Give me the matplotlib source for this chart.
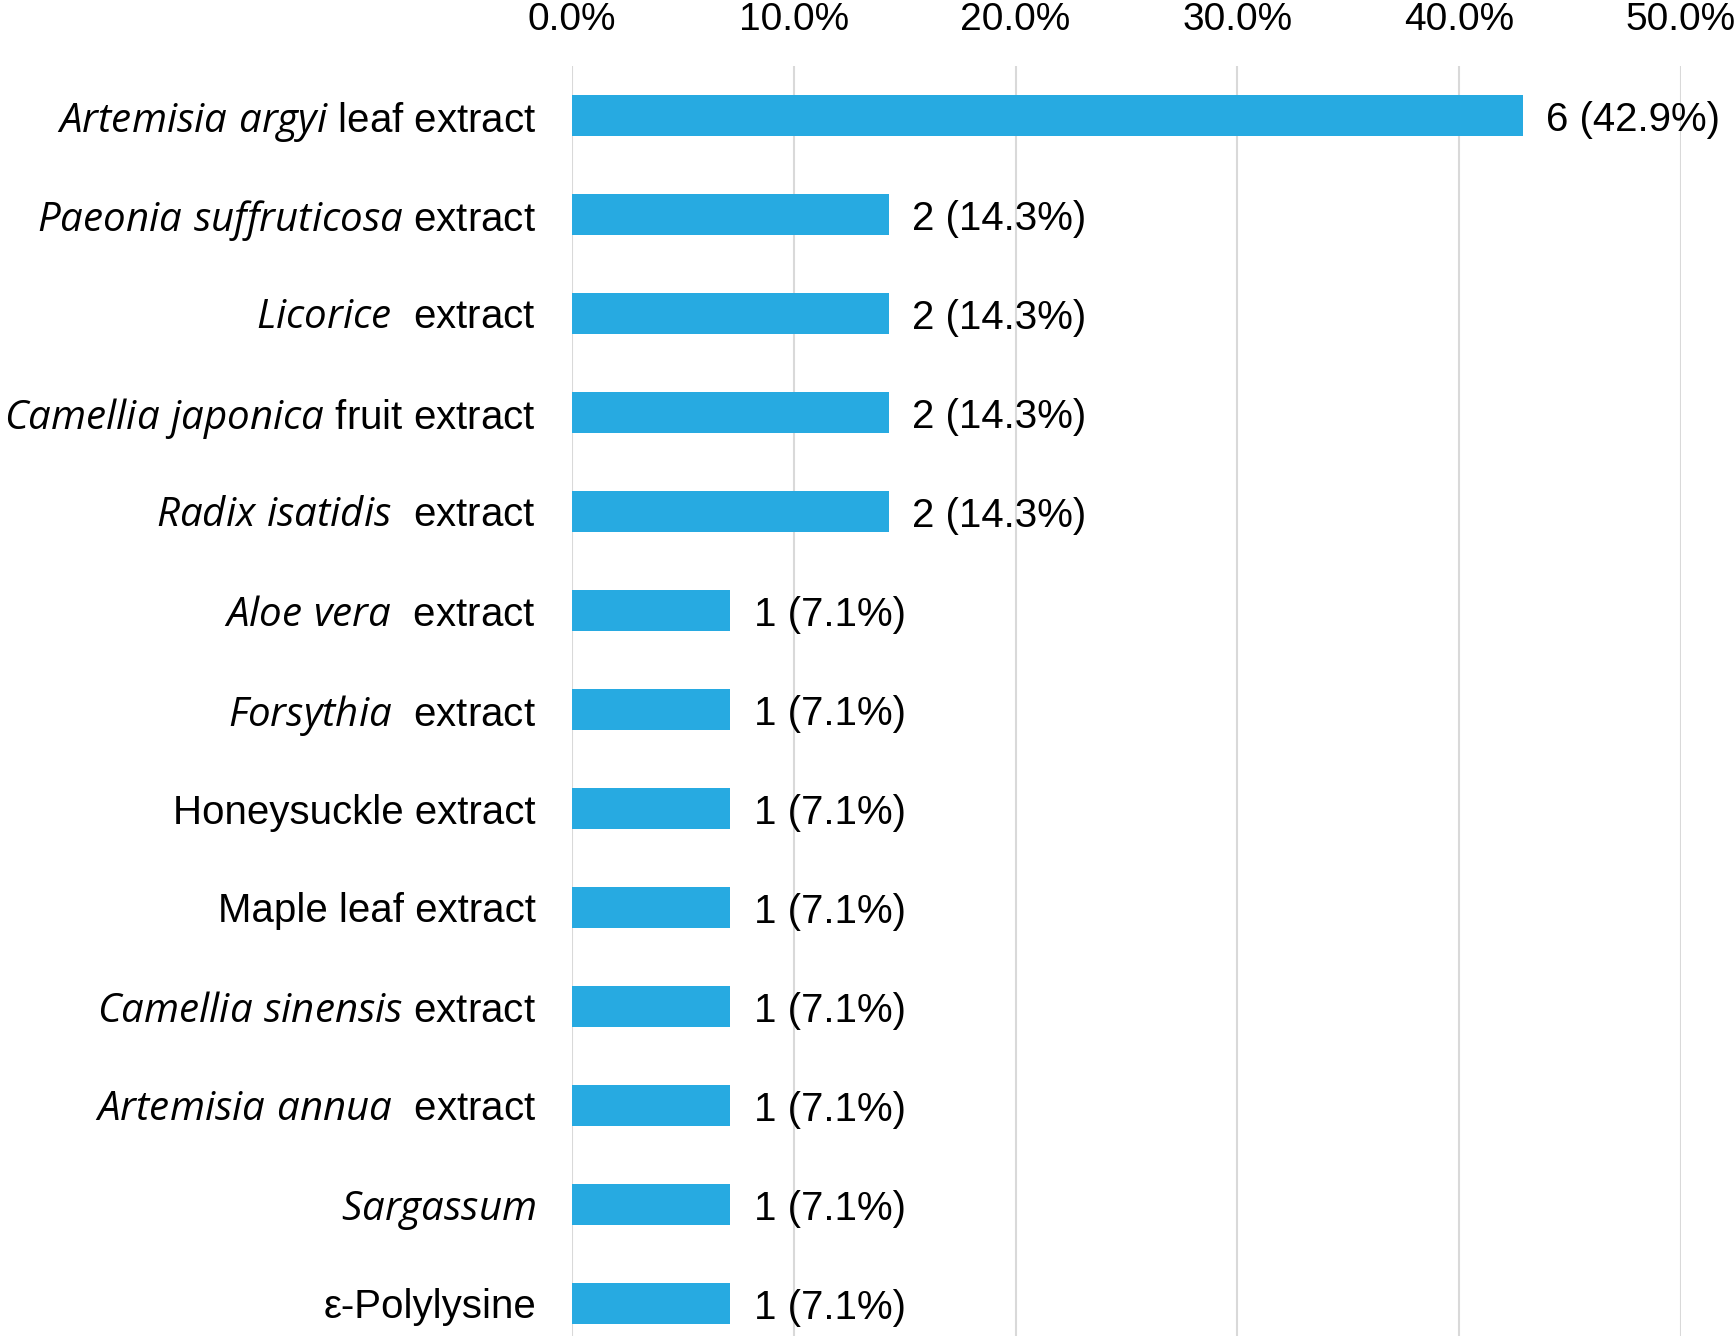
import matplotlib
matplotlib.use("Agg")
import matplotlib.pyplot as plt
from matplotlib.ticker import FuncFormatter

# ---- data ----
italic_parts = ["Artemisia argyi", "Paeonia suffruticosa", "Licorice", "Camellia japonica",
                "Radix isatidis", "Aloe vera", "Forsythia", "", "", "Camellia sinensis",
                "Artemisia annua", "Sargassum", ""]
regular_parts = [" leaf extract", " extract", "  extract", " fruit extract",
                 "  extract", "  extract", "  extract", "Honeysuckle extract", "Maple leaf extract",
                 " extract", "  extract", "", "ε-Polylysine"]
counts = [6, 2, 2, 2, 2, 1, 1, 1, 1, 1, 1, 1, 1]
total = 14
xticks = [0.0, 0.1, 0.2, 0.3, 0.4, 0.5]

plt.rcParams['font.family'] = ['Liberation Sans', 'DejaVu Sans']
plt.rcParams['mathtext.fontset'] = 'custom'
plt.rcParams['mathtext.it'] = 'Open Sans:italic'
plt.rcParams['mathtext.rm'] = 'Liberation Sans'

def make_label(it, rg):
    if it:
        words = it.split(" ")
        return "$\\mathit{" + "\\ ".join(words) + "}$" + rg
    return rg

labels = [make_label(i, r) for i, r in zip(italic_parts, regular_parts)]
shares = [c / total for c in counts]

W, H = 1736, 1336
fig = plt.figure(figsize=(W / 100, H / 100), dpi=100)
top_px, step = 66, 99
n = len(counts)
ax_h = n * step
ax = fig.add_axes([572 / W, (H - top_px - ax_h) / H, (1681 - 572) / W, ax_h / H])

ypos = list(range(n))
ax.barh(ypos, shares, height=0.41, color='#27aae1', zorder=3)
ax.set_ylim(n - 0.5, -0.5)
ax.set_xlim(0, 0.5)

for y, c, s in zip(ypos, counts, shares):
    ax.annotate(f"{c} ({s*100:.1f}%)", xy=(s, y), xytext=(17, -3), textcoords='offset points',
                ha='left', va='center', fontsize=29, clip_on=False)

ax.set_xticks(xticks)
ax.xaxis.set_major_formatter(FuncFormatter(lambda v, p: f"{v*100:.1f}%"))
ax.xaxis.tick_top()
ax.tick_params(axis='x', length=0, labelsize=28, pad=20)
ax.set_yticks(ypos)
ax.set_yticklabels(labels, fontsize=29)
ax.tick_params(axis='y', length=0, pad=26)
ax.grid(axis='x', color='#d9d9d9', linewidth=1.5, zorder=0)
for sp in ax.spines.values():
    sp.set_visible(False)

fig.savefig("out.png", dpi=100)
